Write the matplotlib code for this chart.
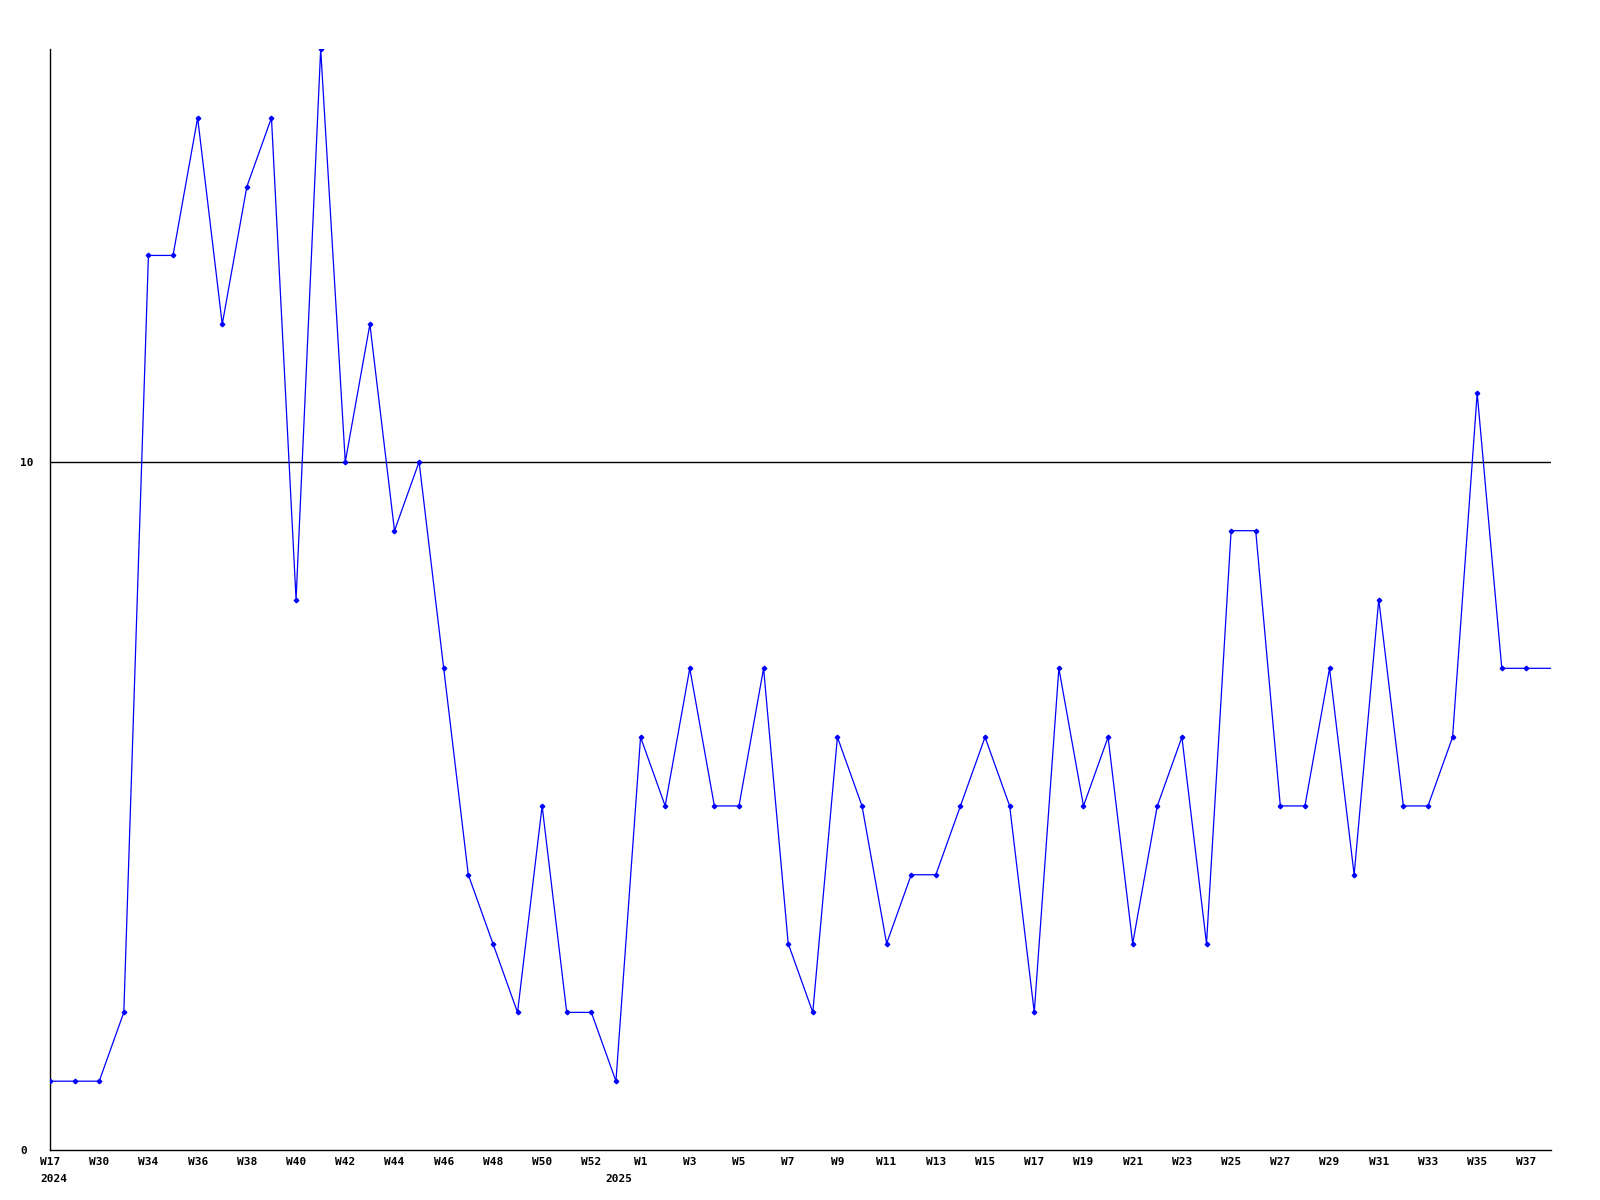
import matplotlib
matplotlib.use("Agg")
import matplotlib.pyplot as plt

values = [1, 1, 1, 2, 13, 13, 15, 12, 14, 15, 8, 16, 10, 12, 9, 10, 7, 4, 3, 2,
          5, 2, 2, 1, 6, 5, 7, 5, 5, 7, 3, 2, 6, 5, 3, 4, 4, 5, 6, 5,
          2, 7, 5, 6, 3, 5, 6, 3, 9, 9, 5, 5, 7, 4, 8, 5, 5, 6, 11, 7,
          7, 7]
tick_labels = ["W17", "W30", "W34", "W36", "W38", "W40", "W42", "W44", "W46", "W48",
               "W50", "W52", "W1", "W3", "W5", "W7", "W9", "W11", "W13", "W15",
               "W17", "W19", "W21", "W23", "W25", "W27", "W29", "W31", "W33", "W35",
               "W37"]
year_labels = ["2024", "2025"]
year_index = [0.15, 23.1]
y_ticks = [0, 10]

fig = plt.figure(figsize=(16, 12), dpi=100)
ax = fig.add_axes([50/1600, 50/1200, 1501/1600, 1101/1200])

x = list(range(len(values)))
ax.plot(x, values, color="#0000ff", lw=0.9, marker="D", markersize=2.3,
        markevery=list(range(len(values) - 1)), zorder=3)
ax.axhline(10, color="black", lw=1.0, zorder=2)

ax.set_xlim(0, len(values) - 1)
ax.set_ylim(0, 16)

font = dict(family="DejaVu Sans Mono", weight="bold", size=8)
ax.set_xticks(x[::2][:len(tick_labels)])
ax.set_xticklabels(tick_labels, **font)
ax.set_yticks(y_ticks)
ax.set_yticklabels([str(v) for v in y_ticks], **font)
for lab in ax.get_yticklabels():
    lab.set_horizontalalignment("left")
ax.tick_params(axis="y", length=0, pad=21.6)
ax.tick_params(axis="x", length=0, pad=5)

for s in ["top", "right"]:
    ax.spines[s].set_visible(False)
for s in ["left", "bottom"]:
    ax.spines[s].set_linewidth(1.0)
    ax.spines[s].set_color("black")

for lab, xi in zip(year_labels, year_index):
    ax.annotate(lab, xy=(xi, 0), xycoords=("data", "axes fraction"),
                xytext=(0, -17), textcoords="offset points",
                ha="center", va="top", **font)

fig.savefig("out.png", dpi=100)
